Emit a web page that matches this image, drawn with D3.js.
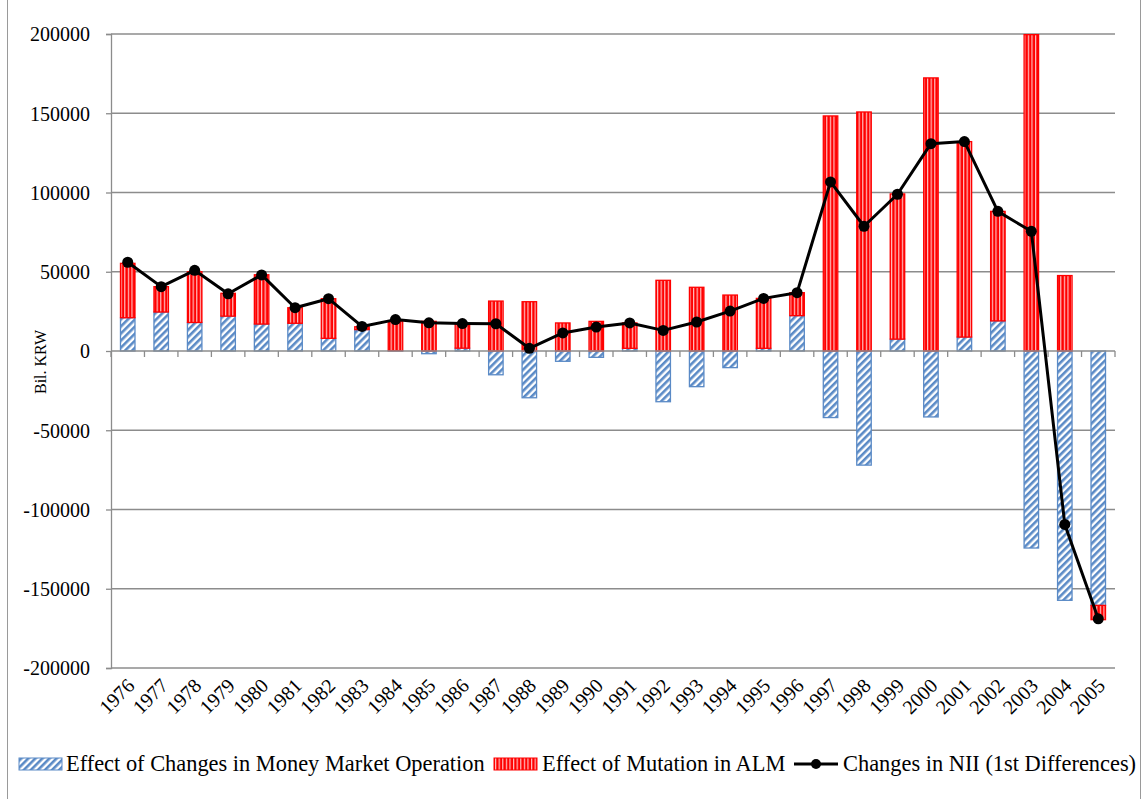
<!DOCTYPE html>
<html>
<head>
<meta charset="utf-8">
<script src="https://cdn.jsdelivr.net/npm/d3@7"></script>
<style>
  html, body { margin: 0; padding: 0; background: #fff; }
  svg text { font-family: "Liberation Serif", "Times New Roman", serif; fill: #000; }
</style>
</head>
<body>
<div id="chart"></div>
<script>
// Données (Bil. KRW)
const years = [1976, 1977, 1978, 1979, 1980, 1981, 1982, 1983, 1984, 1985,
               1986, 1987, 1988, 1989, 1990, 1991, 1992, 1993, 1994, 1995,
               1996, 1997, 1998, 1999, 2000, 2001, 2002, 2003, 2004, 2005];

// Effect of Changes in Money Market Operation
const moneyMarket = [21000, 24600, 18000, 22000, 17000, 17500, 8000, 13500, 200, -1700,
                     1800, -15000, -29500, -6500, -4000, 1700, -32000, -22500, -10500, 1700,
                     22300, -42000, -72000, 7500, -41600, 8800, 19000, -124300, -157300, -160500];

// Effect of Mutation in ALM
const alm = [34300, 16000, 32000, 14400, 31100, 9800, 25000, 1800, 18500, 18700,
             15200, 31500, 31100, 17700, 18700, 16000, 44600, 40200, 35300, 31500,
             14500, 148300, 150800, 91600, 172300, 123300, 69100, 199600, 47600, -9000];

// Changes in NII (1st Differences)
const nii = [56000, 40600, 50900, 36100, 48000, 27300, 33000, 15500, 19800, 17800,
             17300, 17200, 1700, 11400, 15100, 17700, 13000, 18300, 25200, 33200,
             36800, 106700, 78700, 98900, 130800, 132100, 88100, 75500, -109400, -169000];

const yTicks = [-200000, -150000, -100000, -50000, 0, 50000, 100000, 150000, 200000];

const seriesNames = ["Effect of Changes in Money Market Operation",
                     "Effect of Mutation in ALM",
                     "Changes in NII (1st Differences)"];

const width = 1144, height = 799;
const plot = { left: 111, right: 1115, top: 34, bottom: 668 };
const gridColor = "#8c8c8c";
const blue = "#5a8ac6", red = "#ff0000";

let svg = d3.select("#chart").append("svg")
    .attr("width", width)
    .attr("height", height);

// motifs de remplissage
let defs = svg.append("defs");
let pBlue = defs.append("pattern")
    .attr("id", "hatchBlue")
    .attr("patternUnits", "userSpaceOnUse")
    .attr("width", 5).attr("height", 5)
    .attr("patternTransform", "rotate(45)");
pBlue.append("rect").attr("width", 5).attr("height", 5).attr("fill", "#fff");
pBlue.append("rect").attr("width", 2.6).attr("height", 5).attr("fill", blue);

let pRed = defs.append("pattern")
    .attr("id", "stripeRed")
    .attr("patternUnits", "userSpaceOnUse")
    .attr("width", 3.6).attr("height", 4);
pRed.append("rect").attr("width", 3.6).attr("height", 4).attr("fill", red);
pRed.append("rect").attr("x", 1.8).attr("width", 1.2).attr("height", 4).attr("fill", "#fff").attr("opacity", 0.75);

// cadre
svg.append("rect")
    .attr("x", 7.5).attr("y", -2)
    .attr("width", 1133).attr("height", height + 4)
    .attr("fill", "none")
    .attr("stroke", "#9a9a9a");

let x = d3.scaleBand()
    .domain(years)
    .range([plot.left, plot.right])
    .paddingInner(0.567)
    .paddingOuter(0.2835);

let y = d3.scaleLinear()
    .domain([-200000, 200000])
    .range([plot.bottom, plot.top]);

// grille horizontale
svg.append("g")
    .selectAll("line")
    .data(yTicks.filter(d => d !== 0))
    .enter().append("line")
    .attr("x1", plot.left).attr("x2", plot.right)
    .attr("y1", d => y(d)).attr("y2", d => y(d))
    .attr("stroke", gridColor)
    .attr("stroke-width", 1.3);

// axe Y (trait d'union simple comme dans Excel)
let yAxis = svg.append("g")
    .attr("transform", `translate(${plot.left},0)`)
    .call(d3.axisLeft(y).tickValues(yTicks).tickSize(5).tickPadding(16).tickFormat(d => String(d)));
yAxis.selectAll("line, path").attr("stroke", gridColor).attr("stroke-width", 1.3);
yAxis.selectAll("text").style("font-size", "20px").attr("dy", "0.34em");

svg.append("text")
    .attr("transform", "rotate(-90)")
    .attr("x", -362)
    .attr("y", 46)
    .attr("text-anchor", "middle")
    .style("font-size", "16px")
    .text("Bil. KRW");

// barres empilées (positives vers le haut, négatives vers le bas)
let rows = years.map((yr, i) => ({ year: yr, mmo: moneyMarket[i], alm: alm[i] }));
let stacked = d3.stack()
    .keys(["mmo", "alm"])
    .offset(d3.stackOffsetDiverging)(rows);

let fills = { mmo: "url(#hatchBlue)", alm: "url(#stripeRed)" };
let strokes = { mmo: blue, alm: red };

svg.append("g")
    .selectAll("g")
    .data(stacked)
    .enter().append("g")
    .attr("fill", d => fills[d.key])
    .attr("stroke", d => strokes[d.key])
    .attr("stroke-width", 1.3)
    .selectAll("rect")
    .data(d => d)
    .enter().append("rect")
    .attr("x", d => x(d.data.year))
    .attr("width", x.bandwidth())
    .attr("y", d => y(Math.max(d[0], d[1])))
    .attr("height", d => Math.abs(y(d[0]) - y(d[1])));

// axe X au niveau zéro
let step = x.step();
svg.append("line")
    .attr("x1", plot.left).attr("x2", plot.right)
    .attr("y1", y(0)).attr("y2", y(0))
    .attr("stroke", gridColor).attr("stroke-width", 1.3);

svg.append("g")
    .selectAll("line")
    .data(d3.range(years.length + 1))
    .enter().append("line")
    .attr("x1", i => plot.left + i * step)
    .attr("x2", i => plot.left + i * step)
    .attr("y1", y(0)).attr("y2", y(0) + 6)
    .attr("stroke", gridColor).attr("stroke-width", 1.3);

// étiquettes des années
svg.append("g")
    .selectAll("text")
    .data(years)
    .enter().append("text")
    .attr("transform", d => `translate(${x(d) + x.bandwidth() / 2 + 8},${plot.bottom + 19}) rotate(-45)`)
    .attr("text-anchor", "end")
    .style("font-size", "20px")
    .text(d => d);

// courbe NII
let line = d3.line()
    .x((d, i) => x(years[i]) + x.bandwidth() / 2)
    .y(d => y(d));

svg.append("path")
    .datum(nii)
    .attr("fill", "none")
    .attr("stroke", "#000")
    .attr("stroke-width", 3)
    .attr("stroke-linejoin", "round")
    .attr("d", line);

svg.append("g")
    .selectAll("circle")
    .data(nii)
    .enter().append("circle")
    .attr("cx", (d, i) => x(years[i]) + x.bandwidth() / 2)
    .attr("cy", d => y(d))
    .attr("r", 5.5)
    .attr("fill", "#000");

// légende
let legendY = 764;
let legendFont = "22.4px";
let legend = svg.append("g");

legend.append("rect")
    .attr("x", 19).attr("y", legendY - 6)
    .attr("width", 43).attr("height", 12)
    .attr("fill", "url(#hatchBlue)").attr("stroke", blue);
legend.append("text")
    .attr("x", 66).attr("y", legendY + 7)
    .style("font-size", legendFont)
    .text(seriesNames[0]);

legend.append("rect")
    .attr("x", 494).attr("y", legendY - 6)
    .attr("width", 43).attr("height", 12)
    .attr("fill", "url(#stripeRed)").attr("stroke", red);
legend.append("text")
    .attr("x", 542).attr("y", legendY + 7)
    .style("font-size", legendFont)
    .text(seriesNames[1]);

legend.append("line")
    .attr("x1", 794).attr("x2", 838)
    .attr("y1", legendY).attr("y2", legendY)
    .attr("stroke", "#000").attr("stroke-width", 3);
legend.append("circle")
    .attr("cx", 816).attr("cy", legendY).attr("r", 5).attr("fill", "#000");
legend.append("text")
    .attr("x", 843).attr("y", legendY + 7)
    .style("font-size", legendFont)
    .text(seriesNames[2]);
</script>
</body>
</html>
